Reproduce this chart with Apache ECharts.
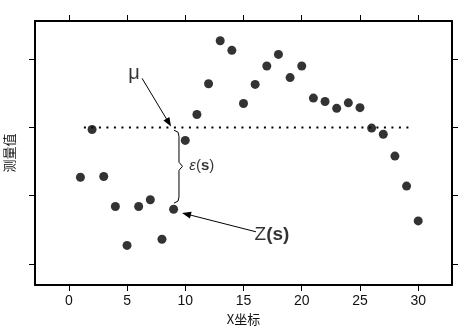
<!DOCTYPE html>
<html>
<head>
<meta charset="utf-8">
<script src="https://cdn.jsdelivr.net/npm/echarts@6/dist/echarts.min.js"></script>
<style>
  html, body { margin: 0; padding: 0; background: #fff; }
  #chart { width: 470px; height: 331px; }
</style>
</head>
<body>
<div id="chart"></div>
<script>
// observations
var xs = [1, 2, 3, 4, 5, 6, 7, 8, 9, 10, 11, 12, 13, 14, 15,
          16, 17, 18, 19, 20, 21, 22, 23, 24, 25, 26, 27, 28, 29, 30];
var vals = [1.27, 1.97, 1.28, 0.84, 0.27, 0.84, 0.94, 0.36, 0.80, 1.81,
            2.19, 2.64, 3.27, 3.13, 2.35, 2.63, 2.90, 3.07, 2.73, 2.90,
            2.43, 2.38, 2.28, 2.36, 2.29, 1.99, 1.90, 1.58, 1.14, 0.63];
var xTicks = [0, 5, 10, 15, 20, 25, 30];
var yTicks = [0, 1, 2, 3];

// mean line (mu) and annotations, in data units
var mu = 2.0;
var muSpan = [1.3, 29.6];
var braceX = [9.03, 9.38, 9.46, 9.46, 9.76, 9.46, 9.46, 9.38, 9.03];
var braceY = [1.96, 1.93, 1.87, 1.49, 1.43, 1.37, 0.98, 0.92, 0.89];
var muArrow = [[6.29, 2.72], [8.58, 2.07]];
var zArrow = [[16.07, 0.47], [10.10, 0.73]];
var muLabelAt = [5.6, 2.79];
var epsLabelAt = [10.35, 1.43];
var zLabelAt = [17.45, 0.42];

var pts = xs.map(function (x, i) { return [x, vals[i]]; });
var brace = braceX.map(function (x, i) { return [x, braceY[i]]; });

var axisLine = { show: true, onZero: false, lineStyle: { color: '#000', width: 2 } };
function tick(vals) {
  return { show: true, inside: false, length: 6, customValues: vals,
           lineStyle: { color: '#000', width: 1 } };
}

var option = {
  animation: false,
  backgroundColor: '#fff',
  textStyle: { fontFamily: 'Liberation Sans, Arial, sans-serif' },
  grid: { left: 35, right: 18, top: 21, bottom: 46, outerBoundsMode: 'none' },
  xAxis: [{
    type: 'value', min: -2.9, max: 32.9, position: 'bottom',
    axisLine: axisLine, axisTick: tick(xTicks), splitLine: { show: false },
    axisLabel: { customValues: xTicks, margin: 9, fontSize: 14, color: '#111' },
    name: 'X坐标', nameLocation: 'middle', nameGap: 26,
    nameTextStyle: { fontSize: 13, color: '#111', fontFamily: 'Noto Sans CJK SC' }
  }, {
    type: 'value', min: -2.9, max: 32.9, position: 'top',
    axisLine: axisLine, axisTick: tick(xTicks), splitLine: { show: false },
    axisLabel: { show: false }
  }],
  yAxis: [{
    type: 'value', min: -0.31, max: 3.56, position: 'left',
    axisLine: axisLine, axisTick: tick(yTicks), splitLine: { show: false },
    axisLabel: { show: false },
    name: '测量值', nameLocation: 'middle', nameGap: 19,
    nameTextStyle: { fontSize: 13, color: '#111', fontFamily: 'Noto Sans CJK SC' }
  }, {
    type: 'value', min: -0.31, max: 3.56, position: 'right',
    axisLine: axisLine, axisTick: tick(yTicks), splitLine: { show: false },
    axisLabel: { show: false }
  }],
  series: [
    {
      name: 'obs', type: 'scatter', data: pts, symbolSize: 9,
      itemStyle: { color: '#000' }, silent: true, z: 5
    },
    {
      name: 'mu', type: 'line',
      data: [[muSpan[0], mu], [muSpan[1], mu]],
      symbol: 'none', silent: true,
      lineStyle: { color: '#000', width: 2, type: [2, 5.5] }
    },
    {
      name: 'brace', type: 'line', data: brace, symbol: 'none', silent: true,
      lineStyle: { color: '#000', width: 1 },
      markLine: {
        silent: true, symbol: ['none', 'triangle'], symbolSize: [7, 9],
        label: { show: false },
        lineStyle: { color: '#000', width: 1, type: 'solid' },
        data: [
          [{ coord: muArrow[0] }, { coord: muArrow[1] }],
          [{ coord: zArrow[0] }, { coord: zArrow[1] }]
        ]
      }
    },
    {
      name: 'notes', type: 'scatter', symbolSize: 0, silent: true,
      label: { show: true, position: 'inside', color: '#000' },
      data: [
        { value: muLabelAt, label: { formatter: 'μ', fontSize: 20 } },
        { value: epsLabelAt, label: {
            position: 'right', distance: 0,
            formatter: '{e|ε}{p|(}{b|s}{p|)}',
            rich: {
              e: { fontSize: 15, fontStyle: 'italic', color: '#000' },
              p: { fontSize: 15, color: '#000' },
              b: { fontSize: 15, fontWeight: 'bold', color: '#000' }
            } } },
        { value: zLabelAt, label: {
            formatter: '{z|Z}{b|(s)}',
            rich: {
              z: { fontSize: 19, color: '#000' },
              b: { fontSize: 19, fontWeight: 'bold', color: '#000' }
            } } }
      ]
    }
  ]
};

var chart = echarts.init(document.getElementById('chart'));
chart.setOption(option);
</script>
</body>
</html>
